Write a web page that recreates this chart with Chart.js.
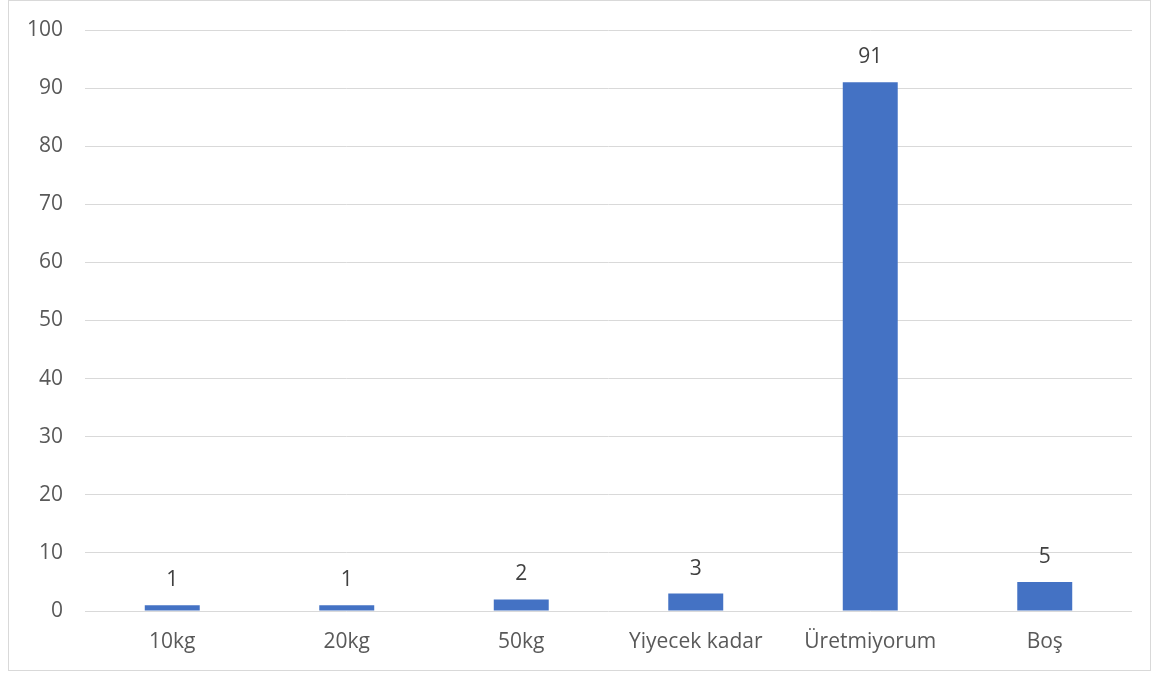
<!DOCTYPE html>
<html><head><meta charset="utf-8">
<script src="https://cdn.jsdelivr.net/npm/chart.js@4/dist/chart.umd.min.js"></script>
<style>
html,body{margin:0;padding:0;background:#fff;}
#box{position:absolute;left:8px;top:0px;width:1143px;height:671px;border:1px solid #d9d9d9;box-sizing:border-box;}
#wrap{position:absolute;left:0;top:0;width:1141px;height:669px;}
</style></head>
<body>
<div id="box"><div id="wrap"><canvas id="c"></canvas></div></div>
<script>
const categories = ["10kg", "20kg", "50kg", "Yiyecek kadar", "Üretmiyorum", "Boş"];
const values = [1, 1, 2, 3, 91, 5];
const yTicks = [0, 10, 20, 30, 40, 50, 60, 70, 80, 90, 100];

const FONT = "'Open Sans', sans-serif";

const labelPlugin = {
  id: 'barLabels',
  afterDatasetsDraw(chart) {
    const ctx = chart.ctx;
    const meta = chart.getDatasetMeta(0);
    ctx.save();
    ctx.font = "21px " + FONT;
    ctx.fillStyle = "#404040";
    ctx.textAlign = "center";
    ctx.textBaseline = "middle";
    meta.data.forEach((bar, i) => {
      ctx.fillText(String(values[i]), bar.x, bar.y - 25);
    });
    ctx.restore();
  }
};

new Chart(document.getElementById('c'), {
  type: 'bar',
  data: {
    labels: categories,
    datasets: [{
      data: values,
      backgroundColor: '#4472C4',
      borderWidth: 0,
      categoryPercentage: 1,
      barPercentage: 0.315
    }]
  },
  options: {
    responsive: true,
    maintainAspectRatio: false,
    animation: false,
    layout: { padding: { top: 29, right: 18, left: 0, bottom: 0 } },
    plugins: { legend: { display: false }, tooltip: { enabled: false } },
    scales: {
      x: {
        grid: { display: false, drawTicks: false },
        border: { display: false },
        ticks: { color: '#595959', font: { family: FONT, size: 21 }, padding: 18 },
        afterFit(s) { s.height = 59; s.paddingLeft = 0; s.paddingRight = 0; }
      },
      y: {
        min: 0, max: 100,
        afterBuildTicks(s) { s.ticks = yTicks.map(v => ({ value: v })); },
        grid: { color: '#d9d9d9', lineWidth: 1, drawTicks: false },
        border: { display: false },
        ticks: { color: '#595959', font: { family: FONT, size: 21 }, padding: 22 },
        afterFit(s) { s.width = 76; s.paddingTop = 0; s.paddingBottom = 0; }
      }
    }
  },
  plugins: [labelPlugin]
});
</script>
</body></html>
